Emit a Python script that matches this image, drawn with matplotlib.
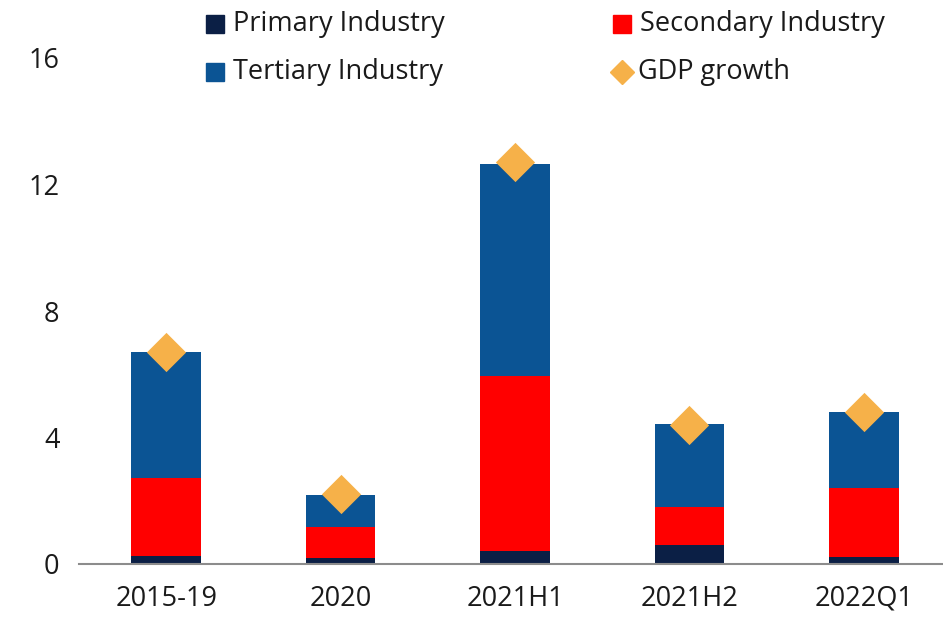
import matplotlib
matplotlib.use("Agg")
import matplotlib.pyplot as plt
from matplotlib.patches import Rectangle
from matplotlib.lines import Line2D
import numpy as np

periods = ["2015-19", "2020", "2021H1", "2021H2", "2022Q1"]
primary = [0.25, 0.20, 0.40, 0.60, 0.23]
secondary = [2.47, 0.97, 5.55, 1.20, 2.18]
tertiary = [3.98, 1.01, 6.71, 2.62, 2.39]
gdp_growth = [6.7, 2.2, 12.7, 4.4, 4.8]
y_ticks = [0, 4, 8, 12, 16]

c_primary = "#0B1F45"
c_secondary = "#FF0000"
c_tertiary = "#0B5494"
c_gdp = "#F6B149"
c_text = "#1A1A1A"

plt.rcParams["font.family"] = ["Open Sans", "DejaVu Sans"]

W, H = 943, 620
fig = plt.figure(figsize=(W / 100, H / 100), dpi=100)
# axes box in pixels: left 79, right 951, bottom (y=564), top (y=58)
ax = fig.add_axes([79 / W, (H - 564) / H, (951 - 79) / W, (564 - 58) / H])

x = np.arange(len(periods))
p = np.array(primary)
s = np.array(secondary)
t = np.array(tertiary)
bw = 0.4
ax.bar(x, p, width=bw, color=c_primary, zorder=2)
ax.bar(x, s, width=bw, bottom=p, color=c_secondary, zorder=2)
ax.bar(x, t, width=bw, bottom=p + s, color=c_tertiary, zorder=2)
ax.scatter(x, gdp_growth, marker="D", s=400, color=c_gdp, zorder=3, linewidths=0)

ax.set_xlim(-0.5, len(periods) - 0.5)
ax.set_ylim(0, 16)
ax.set_yticks(y_ticks)
ax.set_yticklabels([str(v) for v in y_ticks])
ax.set_xticks(x)
ax.set_xticklabels(periods)
ax.tick_params(axis="both", length=0, labelsize=19.5, colors=c_text)
ax.tick_params(axis="y", pad=14)
ax.tick_params(axis="x", pad=15)
for side in ["top", "right", "left"]:
    ax.spines[side].set_visible(False)
ax.spines["bottom"].set_color("#8C8C8C")
ax.spines["bottom"].set_linewidth(1.5)


def fx(px):
    return px / W


def fy(py):
    return 1 - py / H


# legend, two rows by two columns, placed in pixel positions
def square_entry(x0, yc, color, label):
    size = 18
    fig.patches.append(Rectangle((fx(x0), fy(yc + size / 2)), size / W, size / H,
                                 transform=fig.transFigure, color=color))
    fig.text(fx(x0 + 27), fy(yc), label, fontsize=19.5, color=c_text,
             va="center", ha="left")


def diamond_entry(xc, yc, color, label):
    fig.lines.append(Line2D([fx(xc)], [fy(yc)], marker="D", markersize=12,
                            color=color, linestyle="none",
                            transform=fig.transFigure))
    fig.text(fx(xc + 16), fy(yc), label, fontsize=19.5, color=c_text,
             va="center", ha="left")


square_entry(206, 24, c_primary, "Primary Industry")
square_entry(206, 72, c_tertiary, "Tertiary Industry")
square_entry(613, 24, c_secondary, "Secondary Industry")
diamond_entry(622, 72, c_gdp, "GDP growth")

fig.savefig("out.png", dpi=100, facecolor="white")
